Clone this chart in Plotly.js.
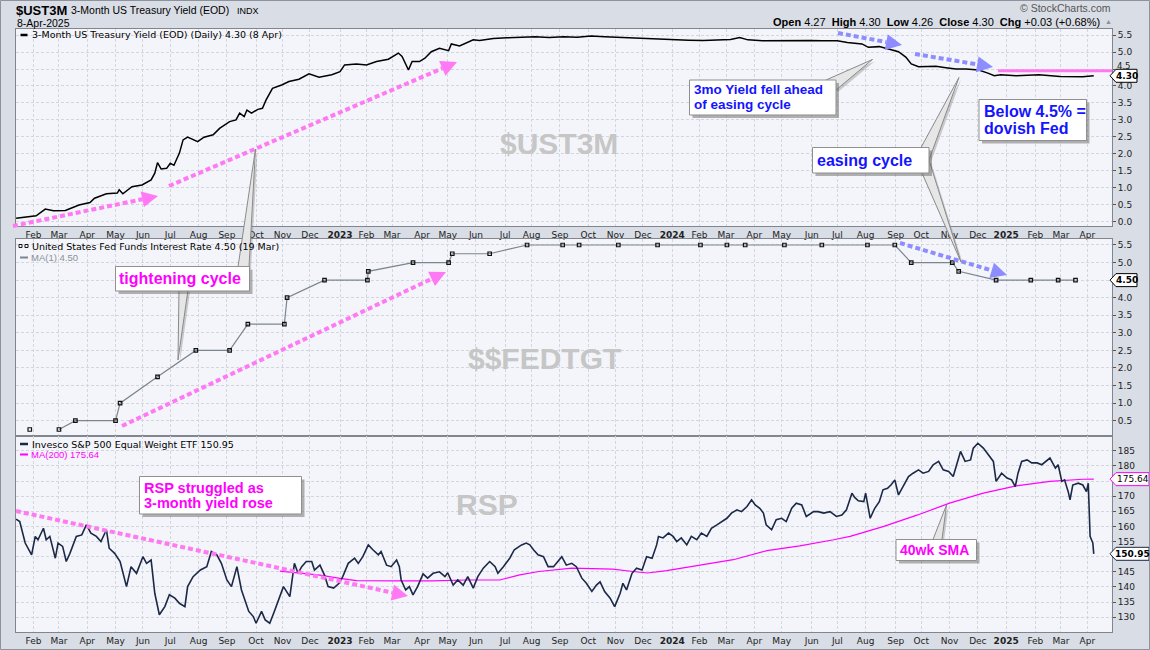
<!DOCTYPE html>
<html><head><meta charset="utf-8">
<script src="https://cdn.plot.ly/plotly-3.0.1.min.js"></script>
<style>html,body{margin:0;padding:0;background:#d9dde5;}#chart{width:1150px;height:650px;}</style>
</head><body><div id="chart"></div>
<script>
// ---------------- DATA ----------------
const ust3mDates = ['2022-01-13','2022-01-25','2022-02-04','2022-02-14','2022-02-23','2022-03-08','2022-03-23','2022-04-04','2022-04-09','2022-04-22','2022-05-04','2022-05-06','2022-05-10','2022-05-20','2022-05-31','2022-06-10','2022-06-14','2022-06-17','2022-06-21','2022-06-27','2022-07-01','2022-07-05','2022-07-11','2022-07-15','2022-07-20','2022-07-31','2022-08-07','2022-08-17','2022-08-24','2022-09-04','2022-09-11','2022-09-15','2022-09-20','2022-09-23','2022-09-28','2022-10-05','2022-10-10','2022-10-14','2022-10-21','2022-10-31','2022-11-08','2022-11-19','2022-11-30','2022-12-11','2022-12-25','2023-01-03','2023-01-08','2023-01-21','2023-02-01','2023-02-12','2023-02-25','2023-03-08','2023-03-12','2023-03-19','2023-03-23','2023-03-31','2023-04-06','2023-04-13','2023-04-22','2023-05-02','2023-05-05','2023-05-14','2023-05-29','2023-06-05','2023-06-20','2023-07-05','2023-07-20','2023-08-05','2023-08-20','2023-09-05','2023-09-20','2023-10-05','2023-10-20','2023-11-05','2023-11-20','2023-12-05','2023-12-20','2024-01-05','2024-01-20','2024-02-05','2024-02-20','2024-03-06','2024-03-16','2024-03-25','2024-04-10','2024-05-01','2024-05-15','2024-06-01','2024-06-15','2024-07-01','2024-07-12','2024-07-28','2024-08-04','2024-08-16','2024-08-27','2024-09-06','2024-09-14','2024-09-20','2024-09-28','2024-10-06','2024-10-17','2024-10-28','2024-11-08','2024-11-19','2024-12-03','2024-12-13','2024-12-20','2024-12-27','2025-01-13','2025-02-07','2025-03-02','2025-03-27','2025-04-08'];
const ust3mVals = [0.10,0.15,0.17,0.37,0.32,0.33,0.49,0.56,0.69,0.82,0.84,0.94,0.82,1.03,1.08,1.23,1.43,1.74,1.55,1.57,1.72,1.66,2.02,2.41,2.49,2.36,2.49,2.56,2.75,2.95,3.00,3.20,3.10,3.29,3.20,3.31,3.34,3.59,3.93,4.03,4.13,4.20,4.36,4.26,4.33,4.42,4.62,4.65,4.62,4.72,4.79,4.97,4.87,4.47,4.72,4.72,4.82,5.01,5.11,5.04,5.24,5.18,5.36,5.34,5.40,5.42,5.44,5.45,5.43,5.45,5.44,5.47,5.45,5.43,5.41,5.39,5.37,5.35,5.35,5.34,5.36,5.37,5.43,5.36,5.33,5.34,5.35,5.34,5.33,5.33,5.28,5.24,5.14,5.16,5.08,5.01,4.85,4.65,4.57,4.58,4.58,4.54,4.50,4.50,4.47,4.38,4.30,4.33,4.30,4.33,4.28,4.27,4.30];

const fedDates = ['2022-01-28','2022-03-01','2022-03-19','2022-05-02','2022-05-07','2022-06-17','2022-07-29','2022-09-04','2022-09-24','2022-11-03','2022-11-06','2022-12-17','2023-02-02','2023-02-03','2023-03-24','2023-05-02','2023-05-06','2023-06-16','2023-07-27','2023-09-04','2023-09-22','2023-11-04','2023-12-17','2024-02-02','2024-03-02','2024-03-22','2024-05-04','2024-06-14','2024-08-03','2024-09-02','2024-09-20','2024-11-04','2024-11-11','2024-12-22','2025-01-29','2025-02-28','2025-03-19'];
const fedVals = [0.25,0.25,0.50,0.50,1.00,1.75,2.50,2.50,3.25,3.25,4.00,4.50,4.50,4.75,5.00,5.00,5.25,5.25,5.50,5.50,5.50,5.50,5.50,5.50,5.50,5.50,5.50,5.50,5.50,5.50,5.00,5.00,4.75,4.50,4.50,4.50,4.50];

const rspDates = ['2022-01-13','2022-01-17','2022-01-23','2022-01-30','2022-02-03','2022-02-06','2022-02-12','2022-02-15','2022-02-19','2022-02-25','2022-02-28','2022-03-05','2022-03-09','2022-03-13','2022-03-20','2022-03-26','2022-03-31','2022-04-05','2022-04-11','2022-04-16','2022-04-22','2022-04-25','2022-05-01','2022-05-07','2022-05-14','2022-05-19','2022-05-25','2022-06-01','2022-06-05','2022-06-10','2022-06-14','2022-06-19','2022-06-25','2022-06-30','2022-07-06','2022-07-11','2022-07-17','2022-07-20','2022-07-26','2022-08-03','2022-08-10','2022-08-15','2022-08-21','2022-08-26','2022-09-01','2022-09-06','2022-09-12','2022-09-17','2022-09-25','2022-09-30','2022-10-03','2022-10-09','2022-10-13','2022-10-18','2022-10-23','2022-10-29','2022-11-02','2022-11-09','2022-11-14','2022-11-18','2022-11-22','2022-11-27','2022-12-03','2022-12-06','2022-12-12','2022-12-17','2022-12-21','2022-12-27','2023-01-02','2023-01-06','2023-01-12','2023-01-19','2023-01-23','2023-01-28','2023-02-03','2023-02-08','2023-02-14','2023-02-17','2023-02-23','2023-02-28','2023-03-06','2023-03-09','2023-03-11','2023-03-16','2023-03-20','2023-03-24','2023-03-29','2023-04-04','2023-04-09','2023-04-15','2023-04-22','2023-04-28','2023-05-01','2023-05-07','2023-05-12','2023-05-18','2023-05-23','2023-05-29','2023-06-03','2023-06-09','2023-06-16','2023-06-22','2023-06-25','2023-07-01','2023-07-08','2023-07-13','2023-07-21','2023-07-26','2023-07-30','2023-08-03','2023-08-08','2023-08-14','2023-08-19','2023-08-25','2023-08-28','2023-09-03','2023-09-08','2023-09-14','2023-09-19','2023-09-25','2023-09-30','2023-10-06','2023-10-11','2023-10-15','2023-10-20','2023-10-26','2023-10-31','2023-11-06','2023-11-09','2023-11-13','2023-11-19','2023-11-24','2023-11-30','2023-12-05','2023-12-11','2023-12-16','2023-12-18','2023-12-23','2023-12-29','2024-01-03','2024-01-07','2024-01-12','2024-01-18','2024-01-23','2024-01-29','2024-02-03','2024-02-09','2024-02-14','2024-02-20','2024-02-25','2024-03-02','2024-03-07','2024-03-13','2024-03-18','2024-03-24','2024-03-29','2024-04-02','2024-04-07','2024-04-11','2024-04-14','2024-04-20','2024-04-25','2024-05-01','2024-05-06','2024-05-12','2024-05-17','2024-05-23','2024-05-28','2024-06-05','2024-06-10','2024-06-16','2024-06-23','2024-06-30','2024-07-06','2024-07-11','2024-07-17','2024-07-20','2024-07-24','2024-07-30','2024-08-01','2024-08-06','2024-08-11','2024-08-16','2024-08-20','2024-08-25','2024-08-29','2024-09-02','2024-09-06','2024-09-11','2024-09-17','2024-09-22','2024-09-28','2024-10-03','2024-10-09','2024-10-14','2024-10-20','2024-10-25','2024-10-31','2024-11-05','2024-11-09','2024-11-13','2024-11-18','2024-11-24','2024-11-27','2024-12-02','2024-12-08','2024-12-13','2024-12-19','2024-12-22','2024-12-28','2025-01-03','2025-01-08','2025-01-12','2025-01-15','2025-01-19','2025-01-25','2025-01-30','2025-02-05','2025-02-10','2025-02-16','2025-02-19','2025-02-25','2025-02-28','2025-03-04','2025-03-07','2025-03-11','2025-03-13','2025-03-16','2025-03-22','2025-03-27','2025-03-31','2025-04-02','2025-04-03','2025-04-04','2025-04-07','2025-04-08'];
const rspVals = [162.4,161.6,154.5,150.6,156.7,155.6,159.4,155.6,156.7,149.5,154.5,153.4,148.4,151.1,156.7,157.2,160.5,157.8,156.7,155.0,158.9,152.8,151.1,148.4,140.1,146.7,144.5,150.0,147.8,148.9,137.9,130.8,133.5,137.4,136.3,134.6,133.5,140.1,143.4,145.6,146.7,151.7,150.6,147.8,142.3,140.1,146.7,139.0,131.9,130.2,128.0,131.9,129.1,128.0,131.9,136.8,140.1,136.8,147.8,144.5,146.7,148.4,148.4,145.6,147.2,143.9,140.1,139.6,141.2,143.4,147.8,149.5,147.8,150.0,153.9,152.3,150.6,151.7,147.2,146.7,148.9,146.7,142.3,139.0,140.1,137.4,140.1,144.3,142.9,144.5,145.0,143.4,144.7,140.6,142.3,140.6,143.4,139.6,143.4,146.2,148.4,146.7,144.5,146.7,149.5,152.3,153.9,154.5,153.9,152.3,150.6,150.0,146.7,146.7,147.8,150.0,147.2,147.8,146.7,142.9,141.2,138.5,140.6,141.7,138.5,136.3,133.5,137.9,141.2,139.0,144.5,146.2,145.6,150.0,149.5,153.9,156.7,156.2,157.8,156.7,155.0,156.2,153.9,156.7,155.6,157.8,156.7,159.4,160.5,161.6,162.7,164.4,165.5,164.9,166.6,168.8,167.1,166.0,164.4,160.5,158.9,162.2,162.7,161.6,166.0,167.7,167.1,163.3,164.9,164.9,164.4,164.9,163.3,163.8,165.5,171.0,169.6,168.5,168.2,171.0,162.7,166.0,168.2,172.1,172.6,173.8,175.4,170.4,173.2,176.5,177.6,178.7,177.6,178.2,180.4,181.5,178.7,178.2,176.5,180.9,184.8,181.5,182.0,185.9,187.5,185.9,183.7,181.5,174.9,177.6,176.0,175.4,173.2,177.6,181.5,182.0,181.0,181.0,180.4,182.0,182.6,179.3,180.4,174.9,175.4,171.5,168.8,173.7,174.3,173.7,171.5,174.3,167.1,156.7,154.5,150.95];

const ma200Dates = ['2022-10-29','2022-11-19','2022-12-12','2023-01-03','2023-01-21','2023-03-09','2023-04-14','2023-05-21','2023-06-27','2023-07-19','2023-08-09','2023-09-14','2023-10-29','2023-11-20','2023-12-06','2023-12-27','2024-02-02','2024-03-09','2024-04-15','2024-05-21','2024-06-27','2024-07-15','2024-08-21','2024-09-27','2024-11-01','2024-12-08','2025-01-13','2025-02-19','2025-03-27','2025-04-08'];
const ma200Vals = [145.2,144.6,143.9,142.8,142.1,142.0,142.0,142.3,142.3,144.0,145.1,146.2,145.9,145.1,144.6,145.4,147.3,149.0,152.0,153.6,155.6,156.7,160.0,163.8,167.7,171.0,173.4,174.9,175.6,175.64];

const monthTicks = ['2022-02-01','2022-03-01','2022-04-01','2022-05-02','2022-06-01','2022-07-01','2022-08-01','2022-09-01','2022-10-03','2022-11-01','2022-12-01','2023-01-03','2023-02-01','2023-03-01','2023-04-03','2023-05-01','2023-06-01','2023-07-03','2023-08-01','2023-09-01','2023-10-02','2023-11-01','2023-12-01','2024-01-02','2024-02-01','2024-03-01','2024-04-01','2024-05-01','2024-06-03','2024-07-01','2024-08-01','2024-09-03','2024-10-01','2024-11-01','2024-12-02','2025-01-02','2025-02-03','2025-03-03','2025-04-01'];
const monthLabels = ['Feb','Mar','Apr','May','Jun','Jul','Aug','Sep','Oct','Nov','Dec','<b>2023</b>','Feb','Mar','Apr','May','Jun','Jul','Aug','Sep','Oct','Nov','Dec','<b>2024</b>','Feb','Mar','Apr','May','Jun','Jul','Aug','Sep','Oct','Nov','Dec','<b>2025</b>','Feb','Mar','Apr'];

const yieldTicks = [0,0.5,1,1.5,2,2.5,3,3.5,4,4.5,5,5.5];
const yieldTickLabels = ['0.0','0.5','1.0','1.5','2.0','2.5','3.0','3.5','4.0','','5.0','5.5'];
const fedTicks = [0.5,1,1.5,2,2.5,3,3.5,4,4.5,5,5.5];
const fedTickLabels = ['0.5','1.0','1.5','2.0','2.5','3.0','3.5','4.0','','5.0','5.5'];
const rspTicks = [130,135,140,145,150,155,160,165,170,175,180,185];
const rspTickLabels = ['130','135','140','145','','155','160','165','170','','180','185'];

const xRange = ['2022-01-12 22:00','2025-04-28'];
const fedThreshold = 4.45;

// ---------------- GEOMETRY HELPERS ----------------
const P = {L:16, R:1112, T:29, B:632};
const fx = x => (x - P.L) / (P.R - P.L);
const fy = y => (P.B - y) / (P.B - P.T);
const pathPx = pts => 'M' + pts.map(p => fx(p[0]).toFixed(5) + ',' + fy(p[1]).toFixed(5)).join(' L') + ' Z';

const shapes = [];
const annotations = [];
const SANS = 'Liberation Sans, Arial, sans-serif';
const VER = 'DejaVu Sans, Verdana, sans-serif';

function txt(x, y, text, opt) {
  opt = opt || {};
  annotations.push({xref:'paper', yref:'paper', x:fx(x), y:fy(y), text:text, showarrow:false,
    xanchor:opt.xa || 'left', yanchor:'middle', borderpad:0,
    font:{family:opt.family || SANS, size:opt.size || 11, color:opt.color || '#000'}});
}
function seg(x0,y0,x1,y1,color,width,dash){
  shapes.push({type:'line', xref:'paper', yref:'paper', x0:fx(x0), y0:fy(y0), x1:fx(x1), y1:fy(y1),
    line:{color:color, width:width, dash:dash || 'solid'}});
}
function poly(pts, fill, lineColor, lw){
  shapes.push({type:'path', xref:'paper', yref:'paper', path:pathPx(pts), fillcolor:fill,
    line:{color:lineColor || fill, width:lw === undefined ? 0 : lw}});
}
function dottedArrow(x0,y0,x1,y1,color){
  const dx=x1-x0, dy=y1-y0, len=Math.hypot(dx,dy), ux=dx/len, uy=dy/len;
  const hl=16, hw=8;
  const bx=x1-ux*hl, by=y1-uy*hl;
  seg(x0,y0,bx,by,color,4,'5px,3px');
  poly([[x1,y1],[bx-uy*hw, by+ux*hw],[bx+uy*hw, by-ux*hw]], color);
}
function box(x0,y0,x1,y1){
  poly([[x0+3,y0+3],[x1+3,y0+3],[x1+3,y1+3],[x0+3,y1+3]], 'rgba(90,90,90,0.45)');
  poly([[x0,y0],[x1,y0],[x1,y1],[x0,y1]], '#ffffff', '#8f8f8f', 1);
}
function wedge(b1,b2,tip){
  poly([[b1[0]+2,b1[1]+2],[b2[0]+2,b2[1]+2],[tip[0]+2,tip[1]+2]], 'rgba(120,120,120,0.35)');
  poly([b1,b2,tip], '#e6e6e6', '#8a8a8a', 1);
}

// ---------------- TRACES ----------------
const traces = [
  {x:ust3mDates, y:ust3mVals, xaxis:'x', yaxis:'y', type:'scatter', mode:'lines',
   line:{color:'#000000', width:1.5}, hoverinfo:'skip'},
  {x:fedDates.slice(1), y:fedVals.slice(1), xaxis:'x2', yaxis:'y2', type:'scatter', mode:'lines',
   line:{color:'#7b858f', width:1.2}, hoverinfo:'skip'},
  {x:fedDates, y:fedVals, xaxis:'x2', yaxis:'y2', type:'scatter', mode:'markers',
   marker:{symbol:'square-open', size:3.5, color:'#111111', line:{width:1.2, color:'#111111'}}, hoverinfo:'skip'},
  {x:ma200Dates, y:ma200Vals, xaxis:'x3', yaxis:'y3', type:'scatter', mode:'lines',
   line:{color:'#ff00ff', width:1.2}, hoverinfo:'skip'},
  {x:rspDates, y:rspVals, xaxis:'x3', yaxis:'y3', type:'scatter', mode:'lines',
   line:{color:'#1b2847', width:1.6}, hoverinfo:'skip'}
];

// ---------------- AXES ----------------
const gridC = '#d3d6dd';
const xBase = {type:'date', range:xRange, tickvals:monthTicks, ticktext:monthLabels, tickmode:'array',
  showgrid:true, gridcolor:gridC, griddash:'3px,2px', gridwidth:1, showline:true, linecolor:'#80858e',
  linewidth:1, mirror:true, zeroline:false, ticks:'', tickfont:{family:VER, size:9, color:'#222'},
  fixedrange:true, automargin:false};
const yBase = {side:'right', showgrid:true, gridcolor:gridC, griddash:'3px,2px', gridwidth:1, showline:true,
  linecolor:'#80858e', linewidth:1, mirror:true, zeroline:false, ticks:'outside', ticklen:3,
  tickcolor:'#555', tickfont:{family:VER, size:9, color:'#222'}, fixedrange:true, automargin:false, tickmode:'array'};

const layout = {
  width:1150, height:650, paper_bgcolor:'#d9dde5', plot_bgcolor:'#f4f5fa',
  margin:{l:P.L, r:1150-P.R, t:P.T, b:650-P.B}, showlegend:false, hovermode:false,
  xaxis: Object.assign({}, xBase, {domain:[0,1], anchor:'y'}),
  xaxis2: Object.assign({}, xBase, {domain:[0,1], anchor:'y2', matches:'x', showticklabels:false}),
  xaxis3: Object.assign({}, xBase, {domain:[0,1], anchor:'y3', matches:'x'}),
  yaxis: Object.assign({}, yBase, {domain:[fy(226),1], range:[-0.13,5.68], tickvals:yieldTicks, ticktext:yieldTickLabels}),
  yaxis2: Object.assign({}, yBase, {domain:[fy(436),fy(239)], range:[0.065,5.67], tickvals:fedTicks, ticktext:fedTickLabels}),
  yaxis3: Object.assign({}, yBase, {domain:[0,fy(436)], range:[125.1,189.9], tickvals:rspTicks, ticktext:rspTickLabels})
};

function yPx(axKey, v){
  const a = layout[axKey];
  const f = a.domain[0] + (v - a.range[0])/(a.range[1]-a.range[0])*(a.domain[1]-a.domain[0]);
  return P.B - f*(P.B-P.T);
}
function valueTag(axKey, v, text, border, bold, w){
  const y = yPx(axKey, v);
  poly([[1110,y],[1116,y-6.5],[1116+w,y-6.5],[1116+w,y+6.5],[1116,y+6.5]], '#ffffff', border, 1);
  txt(1116+w/2, y, bold ? '<b>'+text+'</b>' : text, {xa:'center', family:VER, size:9});
}

// ---------------- HEADER ----------------
txt(15, 10, '<b>$UST3M</b>', {size:13});
txt(70, 10.5, '3-Month US Treasury Yield (EOD)', {size:10.5});
txt(236, 11, 'INDX', {size:9});
txt(16, 23, '8-Apr-2025', {size:10.5});
txt(1112, 8.5, '© StockCharts.com', {xa:'right', size:10.5, color:'#555'});
txt(1101, 22, '<b>Open</b> 4.27  <b>High</b> 4.30  <b>Low</b> 4.26  <b>Close</b> 4.30  <b>Chg</b> +0.03 (+0.68%)', {xa:'right', size:11});
txt(1108, 22, '▲', {xa:'center', size:7, color:'#8a8f99'});

// ---------------- PANEL LEGENDS ----------------
seg(20.5,35,27.5,35,'#000',2.5);
txt(31, 35, '3-Month US Treasury Yield (EOD) (Daily) 4.30 (8 Apr)', {family:VER, size:9.5});
poly([[19,244.5],[22,244.5],[22,247.5],[19,247.5]], '#ffffff', '#111', 1);
poly([[25,244.5],[28,244.5],[28,247.5],[25,247.5]], '#ffffff', '#111', 1);
txt(31, 246, 'United States Fed Funds Interest Rate 4.50 (19 Mar)', {family:VER, size:9.5});
seg(20,257.5,28,257.5,'#7b858f',2);
txt(29.5, 257.5, 'MA(1) 4.50', {size:9.5, color:'#8a9098'});
seg(20,444,28,444,'#1b2847',2.5);
txt(31, 444, 'Invesco S&amp;P 500 Equal Weight ETF 150.95', {family:VER, size:9.5});
seg(20,454.5,28,454.5,'#ff00ff',2);
txt(29.5, 454.5, 'MA(200) 175.64', {size:9.5, color:'#ff00ff'});

// ---------------- WATERMARKS ----------------
txt(559, 143, '<b>$UST3M</b>', {xa:'center', size:30, color:'#c6c6c6'});
txt(544, 358, '<b>$$FEDTGT</b>', {xa:'center', size:30, color:'#c6c6c6'});
txt(487, 504, '<b>RSP</b>', {xa:'center', size:30, color:'#c6c6c6'});

// ---------------- ARROWS ----------------
const pink = '#ff78f4', blue = '#8d8dff';
dottedArrow(13,226,158,196,pink);
dottedArrow(169,186,457,62,pink);
dottedArrow(122,426,446,272,pink);
dottedArrow(16,511,408,596,pink);
dottedArrow(838,33,902,45,blue);
dottedArrow(915,54,993,67,blue);
dottedArrow(900,243,1007,275,blue);
shapes.push({type:'line', xref:'x', yref:'y', x0:'2024-12-24', x1:xRange[1], y0:fedThreshold, y1:fedThreshold,
  line:{color:'#ff78ee', width:3}});

// ---------------- CALLOUTS ----------------
wedge([238,267],[249,267],[255.5,149]);
wedge([179,290],[188,290],[178,360]);
box(115.5,266.5,249.5,291);
txt(118, 278.5, '<b>tightening cycle</b>', {size:16, color:'#ff00ff'});

wedge([826,80],[836,90],[872.5,59.5]);
box(689.5,80,836,115);
txt(693, 89.5, '<b>3mo Yield fell ahead</b>', {size:13.5, color:'#1414ff'});
txt(693, 104.5, '<b>of easing cycle</b>', {size:13.5, color:'#1414ff'});

wedge([921,147.5],[929,160],[959,77.5]);
wedge([922,173],[929,160],[961,262]);
box(812.5,147.5,929,173);
txt(815.5, 160.5, '<b>easing cycle</b>', {size:16, color:'#1414ff'});

box(979,99.5,1086.5,140.5);
txt(983, 111, '<b>Below 4.5% =</b>', {size:16, color:'#1414ff'});
txt(983, 128.5, '<b>dovish Fed</b>', {size:16, color:'#1414ff'});

box(139.5,476.5,301.5,514);
txt(142.5, 487.5, '<b>RSP struggled as</b>', {size:14.5, color:'#ff00ff'});
txt(142.5, 503, '<b>3-month yield rose</b>', {size:14.5, color:'#ff00ff'});

wedge([933,539.5],[942,539.5],[946.5,505]);
box(896,539.5,976.5,560.5);
txt(899, 549.5, '<b>40wk SMA</b>', {size:14, color:'#ff00ff'});

// ---------------- VALUE TAGS ----------------
// the 4.5 label of the top panel sits just above the 4.30 tag, as in the original
txt(1116, yPx('yaxis', 4.5) - 3, '4.5', {family:VER, size:8.5, color:'#222'});
valueTag('yaxis', ust3mVals[ust3mVals.length-1], '4.30', '#000', true, 21);
valueTag('yaxis2', fedVals[fedVals.length-1], '4.50', '#000', true, 21);
valueTag('yaxis3', ma200Vals[ma200Vals.length-1], '175.64', '#ff00ff', false, 33);
valueTag('yaxis3', rspVals[rspVals.length-1], '150.95', '#1b2847', true, 33);

// outer frame
shapes.push({type:'rect', xref:'paper', yref:'paper', x0:fx(0.5), x1:fx(1149.5), y0:fy(0.5), y1:fy(649.5),
  line:{color:'#8d929b', width:1}, fillcolor:'rgba(0,0,0,0)'});

layout.shapes = shapes;
layout.annotations = annotations;
Plotly.newPlot('chart', traces, layout, {displayModeBar:false, staticPlot:true});
</script></body></html>
